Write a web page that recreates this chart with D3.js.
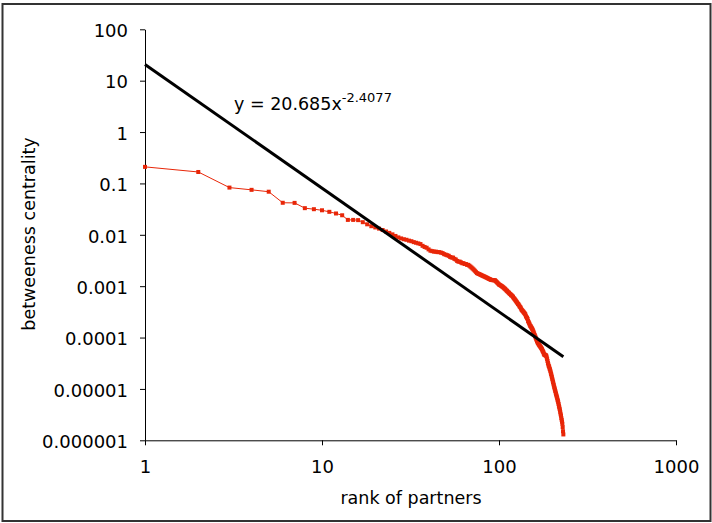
<!DOCTYPE html>
<html>
<head>
<meta charset="utf-8">
<script src="https://cdn.jsdelivr.net/npm/d3@7"></script>
<style>
  body { margin: 0; background: #fff; }
  svg { display: block; }
  text { font-family: "DejaVu Sans", Verdana, sans-serif; fill: #000; }
</style>
</head>
<body>
<div id="chart"></div>
<script>
// betweenness centrality by rank of partner (rank = position in list, starting at 1)
var betweenness = [
  0.21, 0.167, 0.083, 0.075, 0.069, 0.042, 0.0418, 0.033, 0.0315, 0.030,
  0.028, 0.026, 0.024, 0.0195, 0.0195, 0.0193, 0.0176, 0.0160, 0.0147, 0.0139,
  0.0132, 0.0124, 0.0116, 0.0109, 0.0102, 0.0095, 0.0089, 0.0085, 0.0082, 0.0080,
  0.0077, 0.0075, 0.0072, 0.0070, 0.0068, 0.0066, 0.0061, 0.0058, 0.0056, 0.0052,
  0.0049, 0.0048, 0.0047, 0.0047, 0.0046, 0.0046, 0.0045, 0.0044, 0.0042, 0.0041,
  0.0040, 0.0039, 0.0037, 0.0036, 0.0036, 0.0034, 0.0033, 0.0031, 0.0030, 0.0030,
  0.0029, 0.0028, 0.0028, 0.0027, 0.0027, 0.0026, 0.0026, 0.0025, 0.0024, 0.0023,
  0.0022, 0.0021, 0.0020, 0.0019, 0.0018, 1.76e-3, 1.73e-3, 1.69e-3, 1.66e-3, 1.62e-3,
  1.59e-3, 1.56e-3, 1.53e-3, 1.50e-3, 1.47e-3, 1.44e-3, 1.41e-3, 1.38e-3, 1.36e-3, 1.33e-3,
  1.32e-3, 1.31e-3, 1.31e-3, 1.30e-3, 1.30e-3, 1.25e-3, 1.21e-3, 1.16e-3, 1.12e-3, 1.08e-3,
  1.06e-3, 1.04e-3, 1.01e-3, 9.9e-4, 9.7e-4, 9.4e-4, 9.1e-4, 8.9e-4, 8.6e-4, 8.3e-4,
  8.1e-4, 7.8e-4, 7.6e-4, 7.4e-4, 7.1e-4, 7.0e-4, 6.7e-4, 6.6e-4, 6.4e-4, 6.2e-4,
  5.9e-4, 5.7e-4, 5.5e-4, 5.3e-4, 5.1e-4, 4.9e-4, 4.7e-4, 4.5e-4, 4.4e-4, 4.2e-4,
  4.0e-4, 3.9e-4, 3.7e-4, 3.5e-4, 3.4e-4, 3.3e-4, 3.2e-4, 3.1e-4, 3.0e-4, 2.9e-4,
  2.8e-4, 2.6e-4, 2.5e-4, 2.4e-4, 2.3e-4, 2.1e-4, 2.0e-4, 1.9e-4, 1.8e-4, 1.7e-4,
  1.66e-4, 1.59e-4, 1.53e-4, 1.47e-4, 1.41e-4, 1.33e-4, 1.26e-4, 1.19e-4, 1.12e-4, 1.06e-4,
  1.00e-4, 9.5e-5, 9.0e-5, 8.5e-5, 8.1e-5, 7.8e-5, 7.6e-5, 7.3e-5, 7.1e-5, 6.9e-5,
  6.7e-5, 6.5e-5, 6.3e-5, 6.1e-5, 5.9e-5, 5.6e-5, 5.4e-5, 5.2e-5, 4.9e-5, 4.7e-5,
  4.6e-5, 4.6e-5, 4.5e-5, 4.5e-5, 4.4e-5, 4.1e-5, 3.8e-5, 3.5e-5, 3.2e-5, 3.0e-5,
  2.8e-5, 2.7e-5, 2.5e-5, 2.4e-5, 2.25e-5, 2.09e-5, 1.95e-5, 1.82e-5, 1.69e-5, 1.57e-5,
  1.46e-5, 1.36e-5, 1.27e-5, 1.18e-5, 1.10e-5, 1.03e-5, 9.7e-6, 9.1e-6, 8.5e-6, 8.0e-6,
  7.5e-6, 7.1e-6, 6.7e-6, 6.2e-6, 5.9e-6, 5.5e-6, 5.1e-6, 4.7e-6, 4.4e-6, 4.1e-6,
  3.8e-6, 3.5e-6, 3.2e-6, 3.0e-6, 2.7e-6, 2.5e-6, 2.3e-6, 2.1e-6, 1.8e-6, 1.5e-6,
  1.3e-6
];

// power trendline end points (y = 20.685x^-2.4077)
var trendLine = [
  {rank: 1, value: 20.685},
  {rank: 231, value: 0.0000422}
];

var xTicks = [1, 10, 100, 1000];
var xTickLabels = ["1", "10", "100", "1000"];
var yTicks = [100, 10, 1, 0.1, 0.01, 0.001, 0.0001, 0.00001, 0.000001];
var yTickLabels = ["100", "10", "1", "0.1", "0.01", "0.001", "0.0001", "0.00001", "0.000001"];

var w = 712, h = 523;
var red = "#e82608";

var svg = d3.select("#chart").append("svg")
  .attr("width", w)
  .attr("height", h);

svg.append("rect")
  .attr("width", w).attr("height", h)
  .attr("fill", "#fff");

// outer frame
svg.append("rect")
  .attr("x", 2.5).attr("y", 4)
  .attr("width", 708).attr("height", 517)
  .attr("fill", "none")
  .attr("stroke", "#333")
  .attr("stroke-width", 2);

var x = d3.scaleLog().domain([1, 1000]).range([145, 676]);
var y = d3.scaleLog().domain([0.000001, 100]).range([440.3, 29.3]);

// axes
var xAxis = svg.append("g")
  .attr("transform", "translate(0," + y(0.000001) + ")")
  .call(d3.axisBottom(x).tickValues(xTicks)
    .tickFormat(function(d, i) { return xTickLabels[i]; })
    .tickSize(5).tickSizeOuter(0).tickPadding(15));

var yAxis = svg.append("g")
  .attr("transform", "translate(" + x(1) + ",0)")
  .call(d3.axisLeft(y).tickValues(yTicks)
    .tickFormat(function(d, i) { return yTickLabels[i]; })
    .tickSize(5).tickSizeOuter(0).tickPadding(12));

svg.selectAll(".tick text")
  .style("font-size", "18px")
  .attr("font-family", null);
yAxis.selectAll(".tick text").attr("dy", "0.4em");
svg.selectAll(".domain, .tick line").attr("stroke", "#000");

// axis titles
svg.append("text")
  .attr("x", 411).attr("y", 504)
  .attr("text-anchor", "middle")
  .style("font-size", "17.5px")
  .text("rank of partners");

svg.append("text")
  .attr("transform", "translate(35,234) rotate(-90)")
  .attr("text-anchor", "middle")
  .style("font-size", "17.5px")
  .text("betweeness centrality");

// data series
var points = betweenness.map(function(v, i) { return {rank: i + 1, value: v}; });

var line = d3.line()
  .x(function(d) { return x(d.rank); })
  .y(function(d) { return y(d.value); });

svg.append("path")
  .datum(points)
  .attr("fill", "none")
  .attr("stroke", red)
  .attr("stroke-width", 1)
  .attr("d", line);

svg.selectAll("rect.pt")
  .data(points).enter().append("rect")
  .attr("class", "pt")
  .attr("x", function(d) { return x(d.rank) - 2; })
  .attr("y", function(d) { return y(d.value) - 2; })
  .attr("width", 4).attr("height", 4)
  .attr("fill", red);

// trendline
svg.append("path")
  .datum(trendLine)
  .attr("fill", "none")
  .attr("stroke", "#000")
  .attr("stroke-width", 3)
  .attr("d", line);

// trendline equation
var eq = svg.append("text")
  .attr("x", 234).attr("y", 110)
  .style("font-size", "17.5px");
eq.append("tspan").text("y = 20.685x");
eq.append("tspan")
  .attr("dy", -8)
  .style("font-size", "13px")
  .text("-2.4077");
</script>
</body>
</html>
